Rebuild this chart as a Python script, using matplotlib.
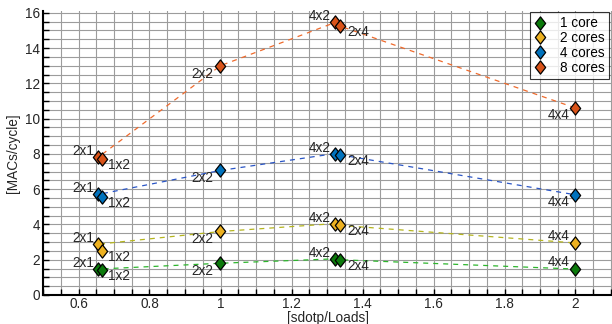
import numpy as np
import matplotlib
matplotlib.use("Agg")
import matplotlib.pyplot as plt
from matplotlib.ticker import MultipleLocator, FormatStrFormatter
from matplotlib.path import Path

plt.rcParams['font.family'] = ['Liberation Sans', 'DejaVu Sans']

# data
configs = ['2x1', '1x2', '2x2', '4x2', '2x4', '4x4']
sdotp_per_load = [0.655, 0.667, 1.0, 1.323, 1.336, 2.0]
series_names = ['1 core', '2 cores', '4 cores', '8 cores']
macs_1core = [1.47, 1.40, 1.80, 2.05, 2.00, 1.47]
macs_2cores = [2.88, 2.50, 3.60, 4.05, 3.95, 2.95]
macs_4cores = [5.70, 5.55, 7.06, 8.02, 7.95, 5.68]
macs_8cores = [7.80, 7.70, 13.0, 15.45, 15.25, 10.6]

# order in which the dashed line visits the points (1x2 first, hidden under markers)
line_order = [1, 0, 2, 3, 4, 5]

marker_colors = ['#0b7a0b', '#EDB120', '#0072BD', '#D95319']
line_colors = ['#2cb52c', '#b4b41e', '#2a55c5', '#ee6a2c']
fs = 9.8

# label offsets in pixels (dx, dy, ha)
label_pos = {
    '2x1': (-4, 6, 'right'),
    '1x2': (6, -6, 'left'),
    '2x2': (-7, -8, 'right'),
    '4x2': (-5, 6, 'right'),
    '2x4': (8, -6, 'left'),
}
label_4x4 = [(-6, 7), (-6, 7), (-6, -7), (-6, -7)]

# taller-than-wide diamond like the original
diamond = Path([(0, 1), (0.78, 0), (0, -1), (-0.78, 0), (0, 1)],
               [Path.MOVETO, Path.LINETO, Path.LINETO, Path.LINETO, Path.CLOSEPOLY])

fig = plt.figure(figsize=(6.12, 3.24), dpi=100)
ax = fig.add_axes([43 / 612, 29 / 324, 569 / 612, 284 / 324])

all_series = [macs_1core, macs_2cores, macs_4cores, macs_8cores]

for i, ys in enumerate(all_series):
    # dashed line joining the points, markers on top
    ax.plot([sdotp_per_load[k] for k in line_order], [ys[k] for k in line_order],
            color=line_colors[i], lw=0.9, dashes=(4, 4), zorder=2)
    ax.plot(sdotp_per_load, ys, linestyle='none', marker=diamond, markersize=9.5,
            markerfacecolor=marker_colors[i], markeredgecolor='black',
            markeredgewidth=0.9, label=series_names[i], zorder=3)
    for cfg, xv, yv in zip(configs, sdotp_per_load, ys):
        if cfg == '4x4':
            dx, dy = label_4x4[i]
            ha = 'right'
        else:
            dx, dy, ha = label_pos[cfg]
        ax.annotate(cfg, (xv, yv), xytext=(dx, dy), textcoords='offset pixels',
                    ha=ha, va='center', fontsize=fs, color='#262626', zorder=4)

ax.set_xlim(0.5, 0.5 + 569 / 355)
ax.set_ylim(0, 16.1)
ax.xaxis.set_major_locator(MultipleLocator(0.2))
ax.xaxis.set_minor_locator(MultipleLocator(0.05))
ax.yaxis.set_major_locator(MultipleLocator(2))
ax.yaxis.set_minor_locator(MultipleLocator(0.5))
ax.xaxis.set_major_formatter(FormatStrFormatter('%g'))
ax.yaxis.set_major_formatter(FormatStrFormatter('%g'))

ax.grid(True, which='both', color='#9c9c9c', lw=0.8)
ax.set_axisbelow(True)
ax.tick_params(which='both', direction='in', length=4, width=1, color='black',
               labelsize=fs, labelcolor='#262626')
ax.tick_params(axis='x', pad=1.5)
ax.tick_params(axis='y', pad=2)

for side in ['top', 'right']:
    ax.spines[side].set_visible(False)
for side in ['left', 'bottom']:
    ax.spines[side].set_linewidth(1.5)

ax.set_xlabel('[sdotp/Loads]', fontsize=fs, color='#262626', labelpad=0)
ax.set_ylabel('[MACs/cycle]', fontsize=fs, color='#262626', labelpad=4)

leg = ax.legend(loc='upper right', bbox_to_anchor=(1 - 2 / 569, 1.0),
                fontsize=fs, frameon=True, fancybox=False, borderpad=0.3,
                handletextpad=1.0, labelspacing=0.06, borderaxespad=0.1,
                handlelength=0.9)
leg.get_frame().set_edgecolor('black')
leg.get_frame().set_linewidth(0.8)

fig.savefig('out.png', dpi=100)
